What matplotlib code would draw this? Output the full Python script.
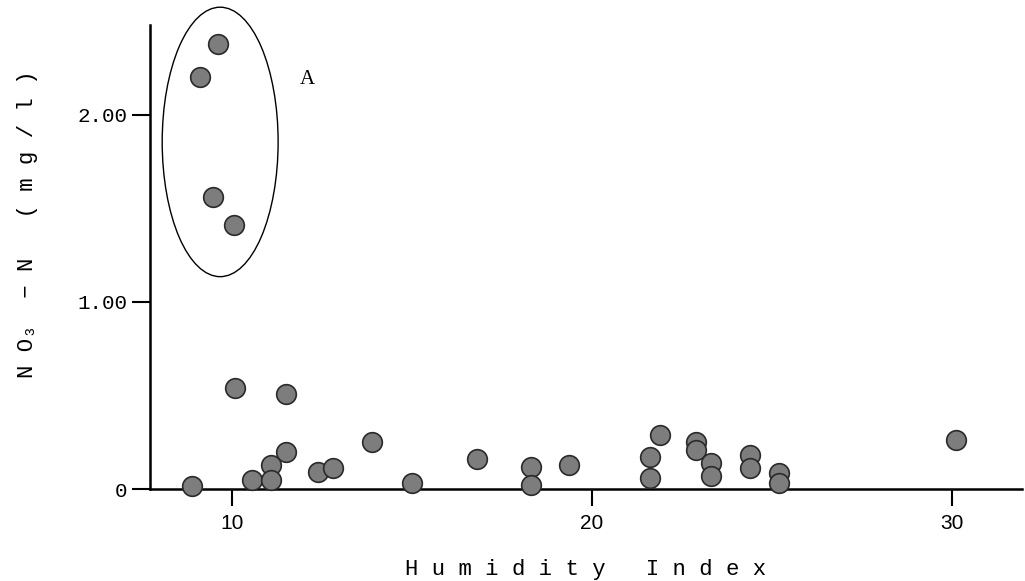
import matplotlib.pyplot as plt
from matplotlib.patches import Ellipse

# Humidity index vs nitrate
humidity = [9.61, 9.11, 9.47, 10.05, 10.08, 11.5, 11.5, 8.89, 10.56, 11.08, 11.08,
            12.4, 12.8, 13.9, 15.0, 16.8, 18.3, 18.3, 19.37, 21.6, 21.6, 21.9,
            22.9, 22.9, 23.3, 23.3, 24.4, 24.4, 25.2, 25.2, 30.1]
nitrate = [2.38, 2.20, 1.56, 1.41, 0.54, 0.51, 0.20, 0.015, 0.05, 0.13, 0.05,
           0.09, 0.11, 0.25, 0.03, 0.16, 0.12, 0.02, 0.13, 0.17, 0.06, 0.29,
           0.25, 0.21, 0.14, 0.07, 0.18, 0.11, 0.085, 0.03, 0.26]
x_ticks = [10, 20, 30]
y_ticks = [0, 1, 2]
y_ticklabels = ["0", "1.00", "2.00"]

fig = plt.figure(figsize=(10.25, 5.81), dpi=100)
ax = fig.add_axes([0.1463, 0.1583, 0.8507, 0.7987])

ax.scatter(humidity, nitrate, s=200, facecolor="#7d7d7d", edgecolor="#2a2a2a",
           linewidth=1.2, zorder=3, clip_on=False)

# group "A" outline
ax.add_patch(Ellipse((9.67, 1.855), 3.22, 1.44, fill=False, edgecolor="black",
                     linewidth=1.0, clip_on=False))
ax.text(12.08, 2.19, "A", fontsize=15, family="Liberation Serif", ha="center",
        va="center")

ax.set_xlim(7.72, 31.94)
ax.set_ylim(0, 2.48)
for side in ["top", "right"]:
    ax.spines[side].set_visible(False)
ax.spines["left"].set_linewidth(1.8)
ax.spines["bottom"].set_linewidth(1.8)

ax.set_xticks(x_ticks)
ax.set_xticklabels([str(t) for t in x_ticks], family="Liberation Sans", fontsize=15)
ax.set_yticks(y_ticks)
ax.set_yticklabels(y_ticklabels, family="Liberation Mono", fontsize=15)
ax.tick_params(axis="x", direction="out", length=12, width=1.5, pad=6)
ax.tick_params(axis="y", direction="out", length=13, width=1.5, pad=3)

ax.set_xlabel("H u m i d i t y   I n d e x", family="Liberation Mono",
              fontsize=16, labelpad=19)
ax.set_ylabel("N O\u2083  \u2212 N   ( m g / l )",
              family=["Liberation Mono", "DejaVu Sans Mono"], fontsize=16)
ax.yaxis.set_label_coords(-0.128, 0.57)

plt.savefig("out.png", dpi=100)
